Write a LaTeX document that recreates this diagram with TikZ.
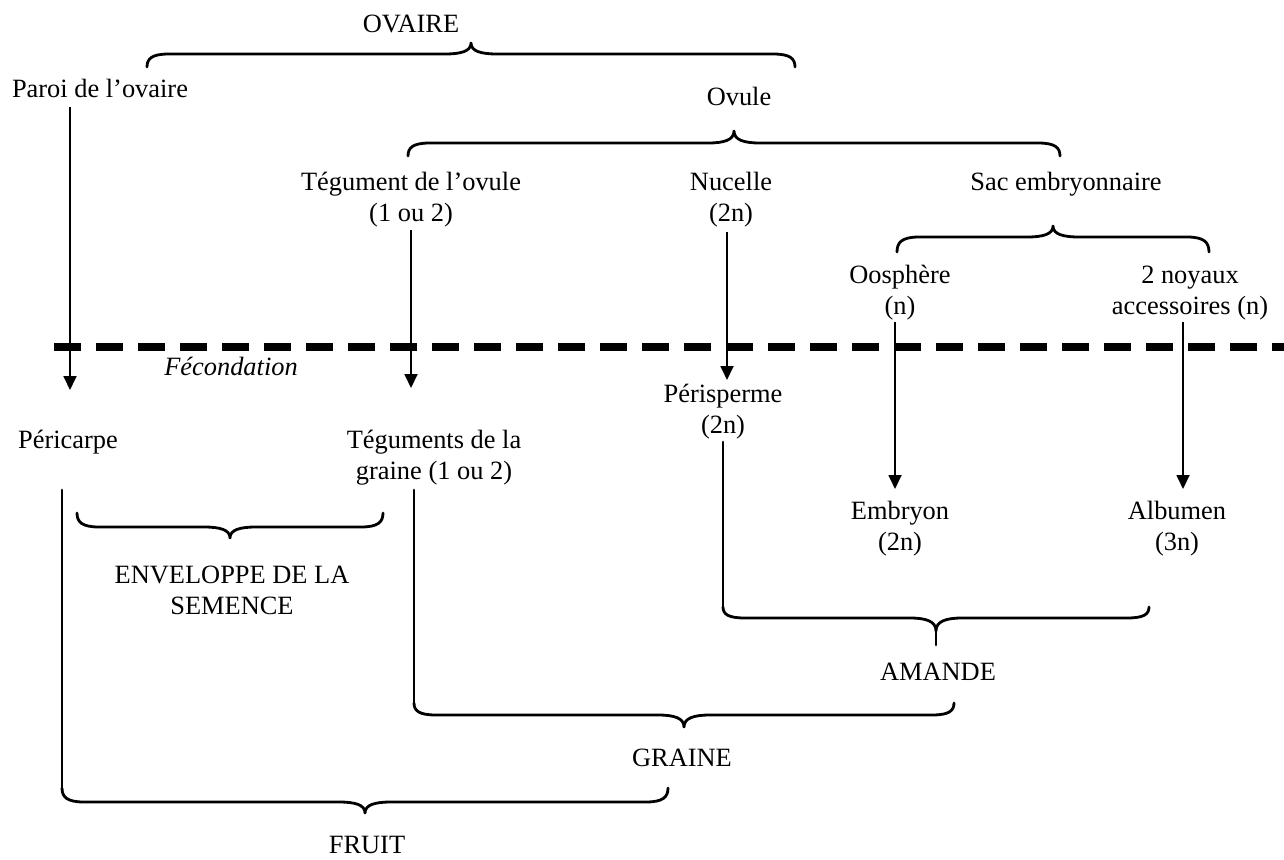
\documentclass[tikz,border=0pt]{standalone}
\usepackage{fontspec}
\setmainfont{Liberation Serif}
\usetikzlibrary{arrows.meta}
\tikzset{
  lbl/.style={inner sep=0pt, outer sep=0pt, align=center, anchor=base, font=\fontsize{26.4pt}{31.5pt}\selectfont},
  arr/.style={line width=1.8pt, -{Triangle[length=14pt,width=13pt]}},
  brc/.style={line width=2.8pt, line cap=round, line join=round},
  conn/.style={line width=2.8pt, line cap=round},
  fecline/.style={line width=8pt, dash pattern=on 27pt off 15pt},
}
\newcommand{\drawbrace}[5]{%
  \pgfmathsetmacro{\bxm}{(#1+#2)/2}%
  \draw[brc] (#1,#3) .. controls (#1,{#4+0.35*(#3-#4)}) and ({#1+5},#4) .. ({#1+22},#4)
    -- ({\bxm-26},#4) .. controls ({\bxm-10},#4) and (\bxm,{#4+0.25*(#5-#4)}) .. (\bxm,#5)
    .. controls (\bxm,{#4+0.25*(#5-#4)}) and ({\bxm+10},#4) .. ({\bxm+26},#4)
    -- ({#2-22},#4) .. controls ({#2-5},#4) and (#2,{#4+0.35*(#3-#4)}) .. (#2,#3);
}
\begin{document}
\begin{tikzpicture}[x=1pt,y=-1pt]
\useasboundingbox (0,0) rectangle (1284,859);

% labels (anchor = baseline of the last line)
\node[lbl] (ovaire) at (411,33) {OVAIRE};
\node[lbl] (paroi) at (100,97) {Paroi de l’ovaire};
\node[lbl] (ovule) at (739,105) {Ovule};
\node[lbl] (tegov) at (411,221.5) {Tégument de l’ovule\\(1 ou 2)};
\node[lbl] (nucelle) at (731,221.5) {Nucelle\\(2n)};
\node[lbl] (sac) at (1066,190) {Sac embryonnaire};
\node[lbl] (oosph) at (900,314.5) {Oosphère\\(n)};
\node[lbl] (noyaux) at (1190,314.5) {2 noyaux\\accessoires (n)};
\node[lbl, font=\fontsize{26.4pt}{31.5pt}\selectfont\itshape] (fec) at (231,375) {Fécondation};
\node[lbl] (peris) at (723,433.5) {Périsperme\\(2n)};
\node[lbl] (peric) at (68,448) {Péricarpe};
\node[lbl] (tegraine) at (434,479.5) {Téguments de la\\graine (1 ou 2)};
\node[lbl] (embryon) at (900,550.5) {Embryon\\(2n)};
\node[lbl] (albumen) at (1177,550.5) {Albumen\\(3n)};
\node[lbl] (envel) at (232,614.5) {ENVELOPPE DE LA\\SEMENCE};
\node[lbl] (amande) at (938,680) {AMANDE};
\node[lbl] (graine) at (682,766) {GRAINE};
\node[lbl] (fruit) at (367,853) {FRUIT};

% fecondation line
\coordinate (fl) at (54,347);
\coordinate (fr) at (1290,347);
\draw[fecline] (fl) -- (fr);

% arrows
\coordinate (a1s) at (70,107);  \coordinate (a1e) at (70,390);
\coordinate (a2s) at (411,230); \coordinate (a2e) at (411,388);
\coordinate (a3s) at (727,232); \coordinate (a3e) at (727,380);
\coordinate (a4s) at (895,322); \coordinate (a4e) at (895,489);
\coordinate (a5s) at (1183,322); \coordinate (a5e) at (1183,489);
\draw[arr] (a1s) -- (a1e);
\draw[arr] (a2s) -- (a2e);
\draw[arr] (a3s) -- (a3e);
\draw[arr] (a4s) -- (a4e);
\draw[arr] (a5s) -- (a5e);

% upper braces (tips up)
\drawbrace{147}{795}{67}{54}{43}
\drawbrace{408}{1060}{156}{143}{131}
\drawbrace{897}{1209}{252}{237}{226}

% lower connectors
\coordinate (p1) at (62,490);  \coordinate (p2) at (62,788);
\coordinate (t1) at (414,490); \coordinate (t2) at (414,703);
\coordinate (s1) at (723,442); \coordinate (s2) at (723,607);
\draw[conn] (p1) -- (p2);
\draw[conn] (t1) -- (t2);
\draw[conn] (s1) -- (s2);

% lower braces (tips down)
\drawbrace{77}{383}{513}{527}{538}
\drawbrace{414}{954}{703}{715}{727}
\drawbrace{723}{1149}{607}{618}{631}
\draw[brc] (936,631) -- (936,645);
\drawbrace{62}{668}{788}{802}{813}
\end{tikzpicture}
\end{document}
